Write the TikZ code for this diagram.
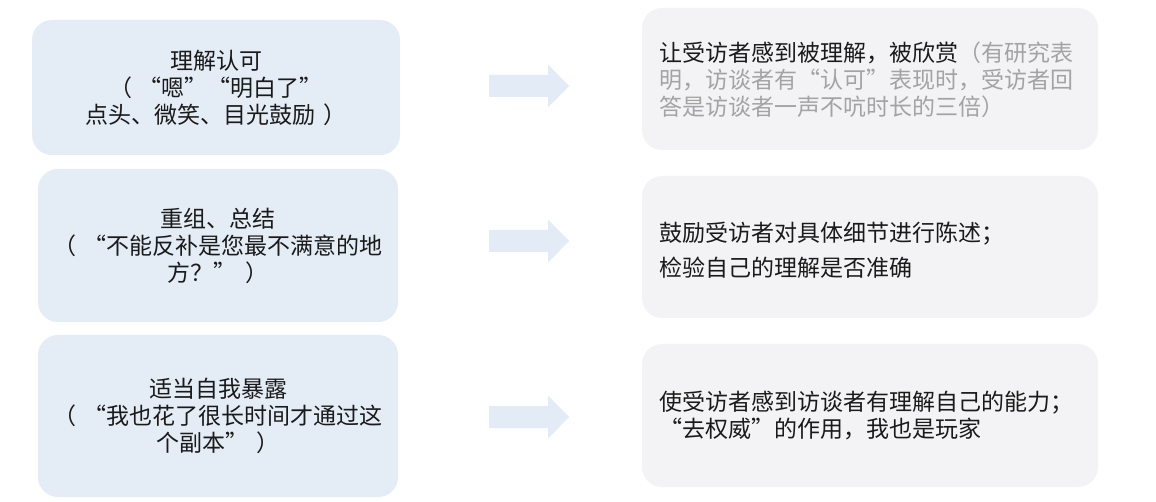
\documentclass[tikz,border=0pt]{standalone}
\usepackage{fontspec}
\setmainfont{Noto Sans CJK SC}[CharacterWidth=Full]
\definecolor{leftfill}{HTML}{E4ECF6}
\definecolor{rightfill}{HTML}{F3F3F5}
\definecolor{arrowfill}{HTML}{E3EBF6}
\definecolor{notegray}{HTML}{A3A3A3}
\definecolor{textblack}{HTML}{1A1A1A}
\tikzset{
  leftbox/.style={fill=leftfill, rounded corners=20pt, inner sep=0pt,
    align=center, text=textblack,
    font=\fontsize{23pt}{27pt}\selectfont},
  rightbox/.style={fill=rightfill, rounded corners=20pt, inner sep=0pt},
  righttext/.style={anchor=west, align=left, inner sep=0pt, text=textblack,
    font=\fontsize{23pt}{27pt}\selectfont},
  blockarrow/.style={fill=arrowfill}
}
% small gaps beside the full-width brackets
\newcommand{\opb}{（\hspace{0.3em}}
\newcommand{\clb}{\hspace{0.35em}）}
\newcommand{\blockarrowat}[1]{%
  \fill[blockarrow] ([xshift=489pt,yshift=11pt]#1) -- ([xshift=548pt,yshift=11pt]#1)
    -- ([xshift=548pt,yshift=21.5pt]#1) -- ([xshift=569pt]#1)
    -- ([xshift=548pt,yshift=-21.5pt]#1) -- ([xshift=548pt,yshift=-11pt]#1)
    -- ([xshift=489pt,yshift=-11pt]#1) -- cycle;}
\begin{document}
\begin{tikzpicture}[x=1pt,y=-1pt]
  \useasboundingbox[fill=white] (0,0) rectangle (1156,502);

  % left column: communication techniques
  \node[leftbox, minimum width=368pt, minimum height=135pt] (l1) at (216,87.5)
    {理解认可\\\opb“嗯”“明白了”\\点头、微笑、目光鼓励\clb};
  \node[leftbox, minimum width=360pt, minimum height=153pt] (l2) at (218,245.5)
    {重组、总结\\\opb“不能反补是您最不满意的地\\方？”\clb};
  \node[leftbox, minimum width=360pt, minimum height=162pt] (l3) at (218,416)
    {适当自我暴露\\\opb“我也花了很长时间才通过这\\个副本”\clb};

  % right column: effects
  \node[rightbox, minimum width=456pt, minimum height=142pt] (r1) at (870,79) {};
  \node[rightbox, minimum width=456pt, minimum height=142pt] (r2) at (870,247) {};
  \node[rightbox, minimum width=456pt, minimum height=143pt] (r3) at (870,415.5) {};

  \node[righttext] (t1) at (659,80)
    {让受访者感到被理解，被欣赏\textcolor{notegray}{（有研究表}\\
     \textcolor{notegray}{明，访谈者有“认可”表现时，受访者回}\\
     \textcolor{notegray}{答是访谈者一声不吭时长的三倍）}};
  \node[righttext, font=\fontsize{23pt}{35pt}\selectfont] (t2) at (659,250)
    {鼓励受访者对具体细节进行陈述；\\检验自己的理解是否准确};
  \node[righttext] (t3) at (659,415.5)
    {使受访者感到访谈者有理解自己的能力；\\“去权威”的作用，我也是玩家};

  % block arrows between the columns
  \coordinate (a1) at (0,86);
  \coordinate (a2) at (0,241);
  \coordinate (a3) at (0,417);
  \blockarrowat{a1}
  \blockarrowat{a2}
  \blockarrowat{a3}
\end{tikzpicture}
\end{document}
